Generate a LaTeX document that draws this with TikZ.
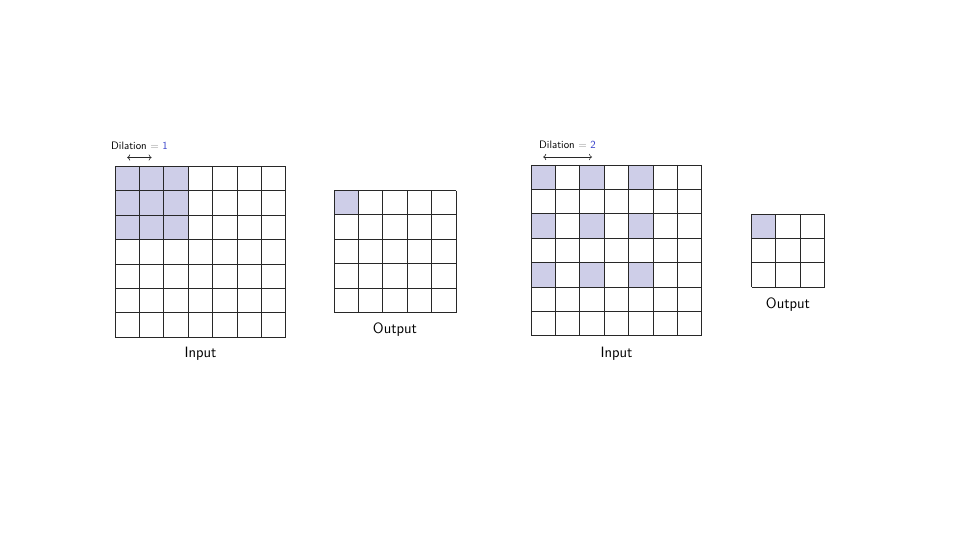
\documentclass[tikz,border=0pt]{standalone}
\usetikzlibrary{arrows.meta}
\definecolor{cellfill}{RGB}{206,206,232}
\definecolor{gridline}{RGB}{40,40,40}
\definecolor{numblue}{RGB}{50,60,200}
\definecolor{eqgray}{RGB}{130,130,130}
\tikzset{
  gridstyle/.style={draw=gridline, line width=0.9pt},
  hot/.style={fill=cellfill},
  biglabel/.style={font=\sffamily\fontsize{15}{17}\selectfont, text=black, inner sep=0pt},
  dillabel/.style={font=\sffamily\fontsize{10.8}{12}\selectfont, text=black, inner sep=0pt},
  dilarrow/.style={<->, line width=0.6pt, gridline}
}
\begin{document}
\begin{tikzpicture}[x=1pt,y=-1pt]
\useasboundingbox (0,0) rectangle (960,540);
\def\c{24.4}
% ---------- left: dilation 1 ----------
\foreach \i in {0,1,2}{
  \foreach \j in {0,1,2}{
    \fill[hot] ({115+\i*\c},{166.5+\j*\c}) rectangle ++(\c,\c);
  }
}
\foreach \k in {0,...,7}{
  \draw[gridstyle] ({115+\k*\c},166.5) -- ({115+\k*\c},{166.5+7*\c});
  \draw[gridstyle] (115,{166.5+\k*\c}) -- ({115+7*\c},{166.5+\k*\c});
}
\node[biglabel] (in1) at (200.5,354) {Input};
\node[dillabel] (dl1) at (139.5,146) {Dilation {\color{eqgray}$=$} {\color{numblue}1}};
\coordinate (a1s) at ({115+0.5*\c},157.5);
\coordinate (a1e) at ({115+1.5*\c},157.5);
\draw[dilarrow] (a1s) -- (a1e);
% output 1
\fill[hot] (334,190.5) rectangle ++(\c,\c);
\foreach \k in {0,...,5}{
  \draw[gridstyle] ({334+\k*\c},190.5) -- ({334+\k*\c},{190.5+5*\c});
  \draw[gridstyle] (334,{190.5+\k*\c}) -- ({334+5*\c},{190.5+\k*\c});
}
\node[biglabel] (out1) at (395,330) {Output};
% ---------- right: dilation 2 ----------
\foreach \i in {0,2,4}{
  \foreach \j in {0,2,4}{
    \fill[hot] ({531+\i*\c},{165+\j*\c}) rectangle ++(\c,\c);
  }
}
\foreach \k in {0,...,7}{
  \draw[gridstyle] ({531+\k*\c},165) -- ({531+\k*\c},{165+7*\c});
  \draw[gridstyle] (531,{165+\k*\c}) -- ({531+7*\c},{165+\k*\c});
}
\node[biglabel] (in2) at (616.5,354) {Input};
\node[dillabel] (dl2) at (567.5,145) {Dilation {\color{eqgray}$=$} {\color{numblue}2}};
\coordinate (a2s) at ({531+0.5*\c},157);
\coordinate (a2e) at ({531+2.5*\c},157);
\draw[dilarrow] (a2s) -- (a2e);
% output 2
\fill[hot] (751.5,214) rectangle ++(\c,\c);
\foreach \k in {0,...,3}{
  \draw[gridstyle] ({751.5+\k*\c},214) -- ({751.5+\k*\c},{214+3*\c});
  \draw[gridstyle] (751.5,{214+\k*\c}) -- ({751.5+3*\c},{214+\k*\c});
}
\node[biglabel] (out2) at (788,305) {Output};
\end{tikzpicture}
\end{document}
